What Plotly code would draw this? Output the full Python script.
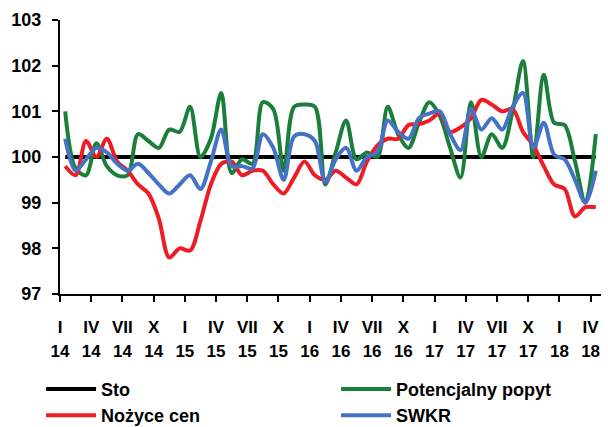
import plotly.graph_objects as go

months = ["I", "II", "III", "IV", "V", "VI", "VII", "VIII", "IX", "X", "XI", "XII"]
years = ["14", "15", "16", "17", "18"]
n_months = 52  # I 2014 .. IV 2018

tick_months = ["I", "IV", "VII", "X"]

potencjalny_popyt = [
    101.0, 99.75, 99.6, 100.3, 99.8, 99.6, 99.6, 100.5, 100.35, 100.2,
    100.6, 100.55, 101.1, 100.0, 100.4, 101.4, 99.65, 99.95, 99.85, 101.2,
    101.05, 99.7, 101.1, 101.15, 101.1, 99.4, 100.1, 100.8, 99.95, 100.1,
    100.0, 101.1, 100.5, 100.2, 100.75, 101.2, 100.9, 100.2, 99.55, 101.2,
    100.0, 100.5, 100.2, 101.0, 102.1, 100.0, 101.8, 100.75, 100.7, 99.9,
    99.0, 100.5,
]
nozyce_cen = [
    99.8, 99.6, 100.35, 100.0, 100.4, 99.9, 99.7, 99.4, 99.2, 98.65,
    97.8, 98.0, 97.95, 98.6, 99.4, 99.85, 99.9, 99.6, 99.7, 99.7,
    99.4, 99.2, 99.55, 99.9, 99.6, 99.5, 99.7, 99.55, 99.4, 99.9,
    100.25, 100.4, 100.4, 100.7, 100.72, 100.8, 100.95, 100.55, 100.65, 100.85,
    101.25, 101.15, 101.0, 101.05, 100.55, 100.25, 99.8, 99.4, 99.3, 98.7,
    98.9, 98.9,
]
swkr = [
    100.4, 99.7, 99.95, 100.2, 100.1, 99.85, 99.7, 99.85, 99.65, 99.4,
    99.2, 99.4, 99.6, 99.3, 99.9, 100.6, 99.8, 99.8, 99.75, 100.5,
    100.2, 99.5, 100.45, 100.5, 100.35, 99.45, 99.95, 100.2, 99.7, 100.0,
    100.1, 100.8, 100.55, 100.4, 100.85, 100.95, 101.0, 100.5, 100.15, 101.05,
    100.6, 100.85, 100.6, 101.1, 101.4, 100.2, 100.75, 100.05, 99.95, 99.5,
    99.0, 99.7,
]
sto = [100.0] * n_months

y_ticks = [97, 98, 99, 100, 101, 102, 103]

# category positions (centre of each month slot) and tick labels
x_pos = [i + 0.5 for i in range(n_months)]
tick_vals = []
month_text = []
year_text = []
for i in range(n_months):
    m = months[i % 12]
    if m in tick_months:
        tick_vals.append(i)
        month_text.append(m)
        year_text.append(years[i // 12])

FONT = "Arial, 'Liberation Sans', sans-serif"

series = [
    ("Sto", sto, "#000000"),
    ("Potencjalny popyt", potencjalny_popyt, "#1B7F3B"),
    ("Nożyce cen", nozyce_cen, "#EE1C25"),
    ("SWKR", swkr, "#4472C4"),
]

fig = go.Figure()
for name, vals, col in series:
    fig.add_trace(go.Scatter(
        x=x_pos, y=vals, name=name, mode="lines",
        line=dict(color=col, width=4,
                  shape="linear" if name == "Sto" else "spline", smoothing=0.9),
    ))

# invisible helper trace for the year label row
fig.add_trace(go.Scatter(x=[0], y=[100], xaxis="x2", showlegend=False,
                         mode="none", hoverinfo="skip"))

fig.update_layout(
    width=608, height=427,
    margin=dict(l=60, r=7, t=20, b=133, autoexpand=False),
    paper_bgcolor="white", plot_bgcolor="white",
    font=dict(family=FONT, size=17, color="black"),
    showlegend=True,
    legend=dict(
        orientation="h", x=-0.035, y=-0.28, xanchor="left", yanchor="top",
        entrywidth=230, entrywidthmode="pixels",
        itemwidth=50, tracegroupgap=0,
        font=dict(family=FONT, size=18, color="black", weight="bold"),
        bgcolor="rgba(0,0,0,0)",
    ),
    xaxis=dict(
        range=[0, n_months], tickmode="array", tickvals=tick_vals, ticktext=month_text,
        showline=True, linecolor="black", linewidth=2,
        ticks="outside", ticklen=6, tickwidth=2, tickcolor="black",
        showgrid=False, zeroline=False, ticklabelstandoff=11,
        tickfont=dict(family=FONT, size=17, color="black", weight="bold"),
    ),
    xaxis2=dict(
        range=[0, n_months], overlaying="x", anchor="y", side="bottom",
        tickmode="array", tickvals=tick_vals, ticktext=year_text,
        showline=False, ticks="", showgrid=False, zeroline=False,
        ticklabelstandoff=45,
        tickfont=dict(family=FONT, size=17, color="black", weight="bold"),
    ),
    yaxis=dict(
        range=[97, 103], tickmode="array", tickvals=y_ticks,
        showline=True, linecolor="black", linewidth=2,
        ticks="outside", ticklen=6, tickwidth=2, tickcolor="black",
        showgrid=False, zeroline=False, ticklabelstandoff=7,
        tickfont=dict(family=FONT, size=18, color="black", weight="bold"),
    ),
)

fig.write_html("out.html", config={"displayModeBar": False},
               post_script="document.body.style.margin='0';")
